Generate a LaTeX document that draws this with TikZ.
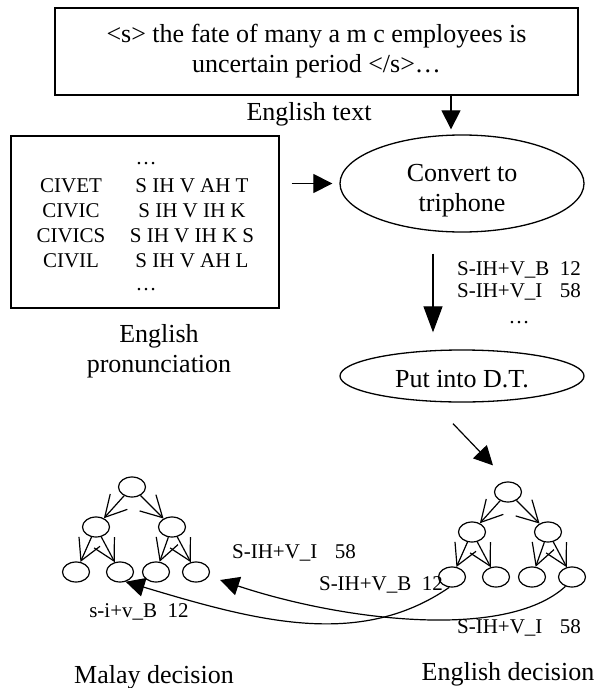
\documentclass[tikz,border=0pt]{standalone}
\usepackage{fontspec}
\setmainfont{Liberation Serif}
\usetikzlibrary{shapes.geometric,arrows.meta,positioning,calc}
\tikzset{
  main text/.style={font=\fontsize{26}{30}\selectfont},
  small text/.style={font=\fontsize{21}{22}\selectfont},
  text box/.style={draw,line width=1.3pt,inner sep=0pt},
  process/.style={draw,ellipse,line width=1.3pt,inner sep=0pt,main text,align=center},
  flow arrow/.style={-{Triangle[length=19pt,width=19pt]},line width=1.2pt},
  tree node/.style={draw,ellipse,line width=1.2pt,minimum width=27pt,minimum height=20pt,inner sep=0pt},
  tree edge/.style={-{Straight Barb[length=21pt,width=23pt]},line width=1.2pt},
  map arrow/.style={-{Triangle[length=19pt,width=19pt]},line width=1.2pt}
}
\begin{document}
\begin{tikzpicture}[x=1pt,y=-1pt]
\useasboundingbox (0,0) rectangle (596,688);

% input text
\node[text box,main text,minimum width=523pt,minimum height=87pt,align=center] (engtext) at (316.5,51.5)
  {<s> the fate of many a m c employees is\\uncertain period </s>…};
\node[main text,anchor=base] (engtextlbl) at (309,120) {English text};

% pronunciation dictionary
\node[text box,minimum width=268pt,minimum height=172pt] (pron) at (145,222) {};
\node[small text,anchor=base] (dotsa) at (146,164) {…};
\foreach \w/\p [count=\i] in {CIVET/S IH V AH T,CIVIC/S IH V IH K,CIVICS/S IH V IH K S,CIVIL/S IH V AH L}{
  \node[small text,anchor=base] (word\i) at (71,{167+25*\i}) {\w};
  \node[small text,anchor=base] (phone\i) at (192,{167+25*\i}) {\p};
}
\node[small text,anchor=base] (dotsb) at (146,290) {…};
\node[main text,anchor=north,align=center,inner sep=0pt] (pronlbl) at (159,324) {English\\pronunciation};

% processing steps
\node[process,minimum width=244pt,minimum height=97pt] (conv) at (462,183.5) {\rule{0pt}{32pt}Convert to\\triphone};
\node[process,minimum width=244pt,minimum height=52pt] (dt) at (462,376) {\rule{0pt}{24pt}Put into D.T.};
\node[small text,anchor=north,align=center,inner sep=0pt] (tricount) at (519,261)
  {S-IH+V\_B\hspace{0.5em}12\\S-IH+V\_I\hspace{0.83em}58\\[4pt]…};

\coordinate (c1) at ($(conv.north)+(-11,-5)$);
\draw[flow arrow] (engtext.south -| c1) -- (c1);
\draw[flow arrow,shorten <=12pt,shorten >=7pt] (pron.east |- conv.west) -- (conv.west);
\draw[flow arrow,-{Triangle[length=26pt,width=19pt]}] ($(conv.south)+(-29,21)$) -- ($(dt.north)+(-29,-17)$);

% decision trees
\foreach \t/\rx/\ry in {m/132/487,e/508/492}{
  \node[tree node] (\t) at (\rx,\ry) {};
  \node[tree node] (\t1) at ({\rx-36},{\ry+40}) {};
  \node[tree node] (\t2) at ({\rx+40},{\ry+40}) {};
  \node[tree node] (\t11) at ({\rx-56},{\ry+85}) {};
  \node[tree node] (\t12) at ({\rx-12},{\ry+85}) {};
  \node[tree node] (\t21) at ({\rx+24},{\ry+85}) {};
  \node[tree node] (\t22) at ({\rx+64},{\ry+85}) {};
  \draw[tree edge] (\t) -- (\t1);
  \draw[tree edge] (\t) -- (\t2);
  \draw[tree edge] (\t1) -- (\t11);
  \draw[tree edge] (\t1) -- (\t12);
  \draw[tree edge] (\t2) -- (\t21);
  \draw[tree edge] (\t2) -- (\t22);
}
\draw[flow arrow] ($(dt.south)+(-9,21)$) -- ($(e.north)+(-15,-16)$);

% mapping
\coordinate (mtip) at ([shift={(10,8)}]m22.east);
\draw[map arrow] (e11.255) .. controls +(-90,62) and +(130,39) .. (m12.-60);
\draw[map arrow] (e22.235) .. controls +(-60,55) and +(120,40) .. (mtip);

\node[small text,anchor=base] (lbla) at (294,558) {S-IH+V\_I\hspace{0.83em}58};
\node[small text,anchor=base] (lblb) at (381,590) {S-IH+V\_B\hspace{0.5em}12};
\node[small text,anchor=base] (lblc) at (139,617) {s-i+v\_B\hspace{0.5em}12};
\node[small text,anchor=base] (lbld) at (519,633) {S-IH+V\_I\hspace{0.83em}58};
\node[main text,anchor=base] (mdec) at (154,683) {Malay decision};
\node[main text,anchor=base] (edec) at (508,680) {English decision};
\end{tikzpicture}
\end{document}
